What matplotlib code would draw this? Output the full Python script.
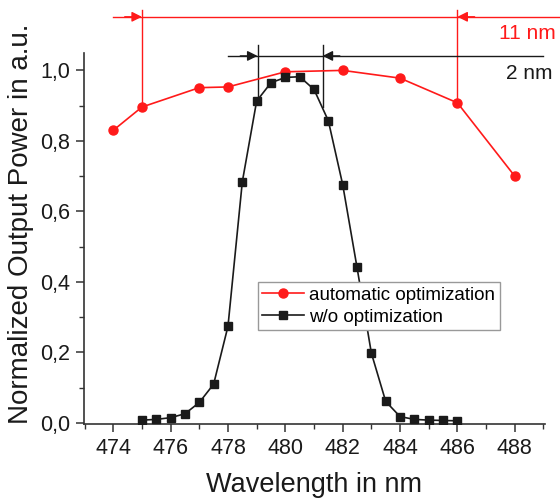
import numpy as np
import matplotlib
matplotlib.use('Agg')
import matplotlib.pyplot as plt
from matplotlib.ticker import MultipleLocator, FuncFormatter

plt.rcParams['font.family'] = ['Liberation Sans', 'DejaVu Sans']

# automatic optimization (red circles)
auto_wl = [474, 475, 477, 478, 480, 482, 484, 486, 488]
auto_pw = [0.830, 0.896, 0.951, 0.953, 0.996, 1.000, 0.978, 0.908, 0.700]

# w/o optimization (black squares)
wo_wl = [475.0, 475.5, 476.0, 476.5, 477.0, 477.5, 478.0, 478.5, 479.0, 479.5,
         480.0, 480.5, 481.0, 481.5, 482.0, 482.5, 483.0, 483.5, 484.0, 484.5,
         485.0, 485.5, 486.0]
wo_pw = [0.008, 0.010, 0.015, 0.026, 0.058, 0.110, 0.274, 0.684, 0.913, 0.965,
         0.980, 0.982, 0.946, 0.857, 0.676, 0.441, 0.198, 0.061, 0.018, 0.010,
         0.008, 0.007, 0.006]

# bandwidth markers
red_band = [475, 486]
red_bottoms = [0.896, 0.908]
blk_band = [479.03, 481.3]
blk_bottoms = [0.913, 0.897]

RED = '#ff1a1a'
INK = '#1a1a1a'


def arrow(x_tip, x_tail, y, color):
    ax.annotate('', xy=(x_tip, y), xytext=(x_tail, y), annotation_clip=False,
                arrowprops=dict(arrowstyle='-|>', color=color, lw=1,
                                mutation_scale=15, shrinkA=0, shrinkB=0))


fig = plt.figure(figsize=(5.6, 5.01), dpi=100)
ax = fig.add_axes([0.15, 0.153, 0.823, 0.741])

ax.plot(auto_wl, auto_pw, color=RED, marker='o', markersize=6.5, lw=1.2,
        label='automatic optimization', zorder=3)
ax.plot(wo_wl, wo_pw, color=INK, marker='s', markersize=5.5, lw=1.2,
        label='w/o optimization', zorder=3)

# 11 nm annotation
y_red = 1.152
ax.plot([474, 489.7], [y_red, y_red], color=RED, lw=1, clip_on=False)
for xb, yb in zip(red_band, red_bottoms):
    ax.plot([xb, xb], [1.171, yb], color=RED, lw=1, clip_on=False)
arrow(red_band[0], red_band[0] - 0.6, y_red, RED)
arrow(red_band[1], red_band[1] + 0.6, y_red, RED)
ax.text(487.45, 1.105, '11 nm', color=RED, fontsize=15, va='center', ha='left',
        clip_on=False)

# 2 nm annotation
y_blk = 1.041
ax.plot([478, 489], [y_blk, y_blk], color=INK, lw=1, clip_on=False)
for xb, yb in zip(blk_band, blk_bottoms):
    ax.plot([xb, xb], [1.071, yb], color=INK, lw=1, clip_on=False)
arrow(blk_band[0], blk_band[0] - 0.6, y_blk, INK)
arrow(blk_band[1], blk_band[1] + 0.6, y_blk, INK)
ax.text(487.7, 0.992, '2 nm', color=INK, fontsize=15, va='center', ha='left',
        clip_on=False)

ax.set_xlim(472.98, 489.05)
ax.set_ylim(-0.004, 1.049)

ax.xaxis.set_major_locator(MultipleLocator(2))
ax.xaxis.set_minor_locator(MultipleLocator(1))
ax.yaxis.set_major_locator(MultipleLocator(0.2))
ax.yaxis.set_minor_locator(MultipleLocator(0.1))
ax.yaxis.set_major_formatter(FuncFormatter(lambda v, p: ('%.1f' % v).replace('.', ',')))

for s in ['top', 'right']:
    ax.spines[s].set_visible(False)
for s in ['left', 'bottom']:
    ax.spines[s].set_color('#333333')
    ax.spines[s].set_linewidth(1.2)

ax.tick_params(which='major', direction='out', length=6, width=1.1,
               labelsize=15.5, colors='#333333', labelcolor=INK, pad=4)
ax.tick_params(which='minor', direction='out', length=3.5, width=1.0,
               colors='#333333')

ax.set_xlabel('Wavelength in nm', fontsize=19.5, color=INK)
ax.set_ylabel('Normalized Output Power in a.u.', fontsize=20, color=INK)
ax.xaxis.set_label_coords(0.5, -0.128)
ax.yaxis.set_label_coords(-0.108, 0.539)

leg = ax.legend(loc='upper left', bbox_to_anchor=(0.377, 0.383), borderaxespad=0,
                fontsize=13.5, fancybox=False, framealpha=1, edgecolor='#999999',
                handlelength=2.2, handletextpad=0.3, borderpad=0.25,
                labelspacing=0.25)
leg.get_frame().set_linewidth(1.0)

fig.savefig('out.png', dpi=100)
